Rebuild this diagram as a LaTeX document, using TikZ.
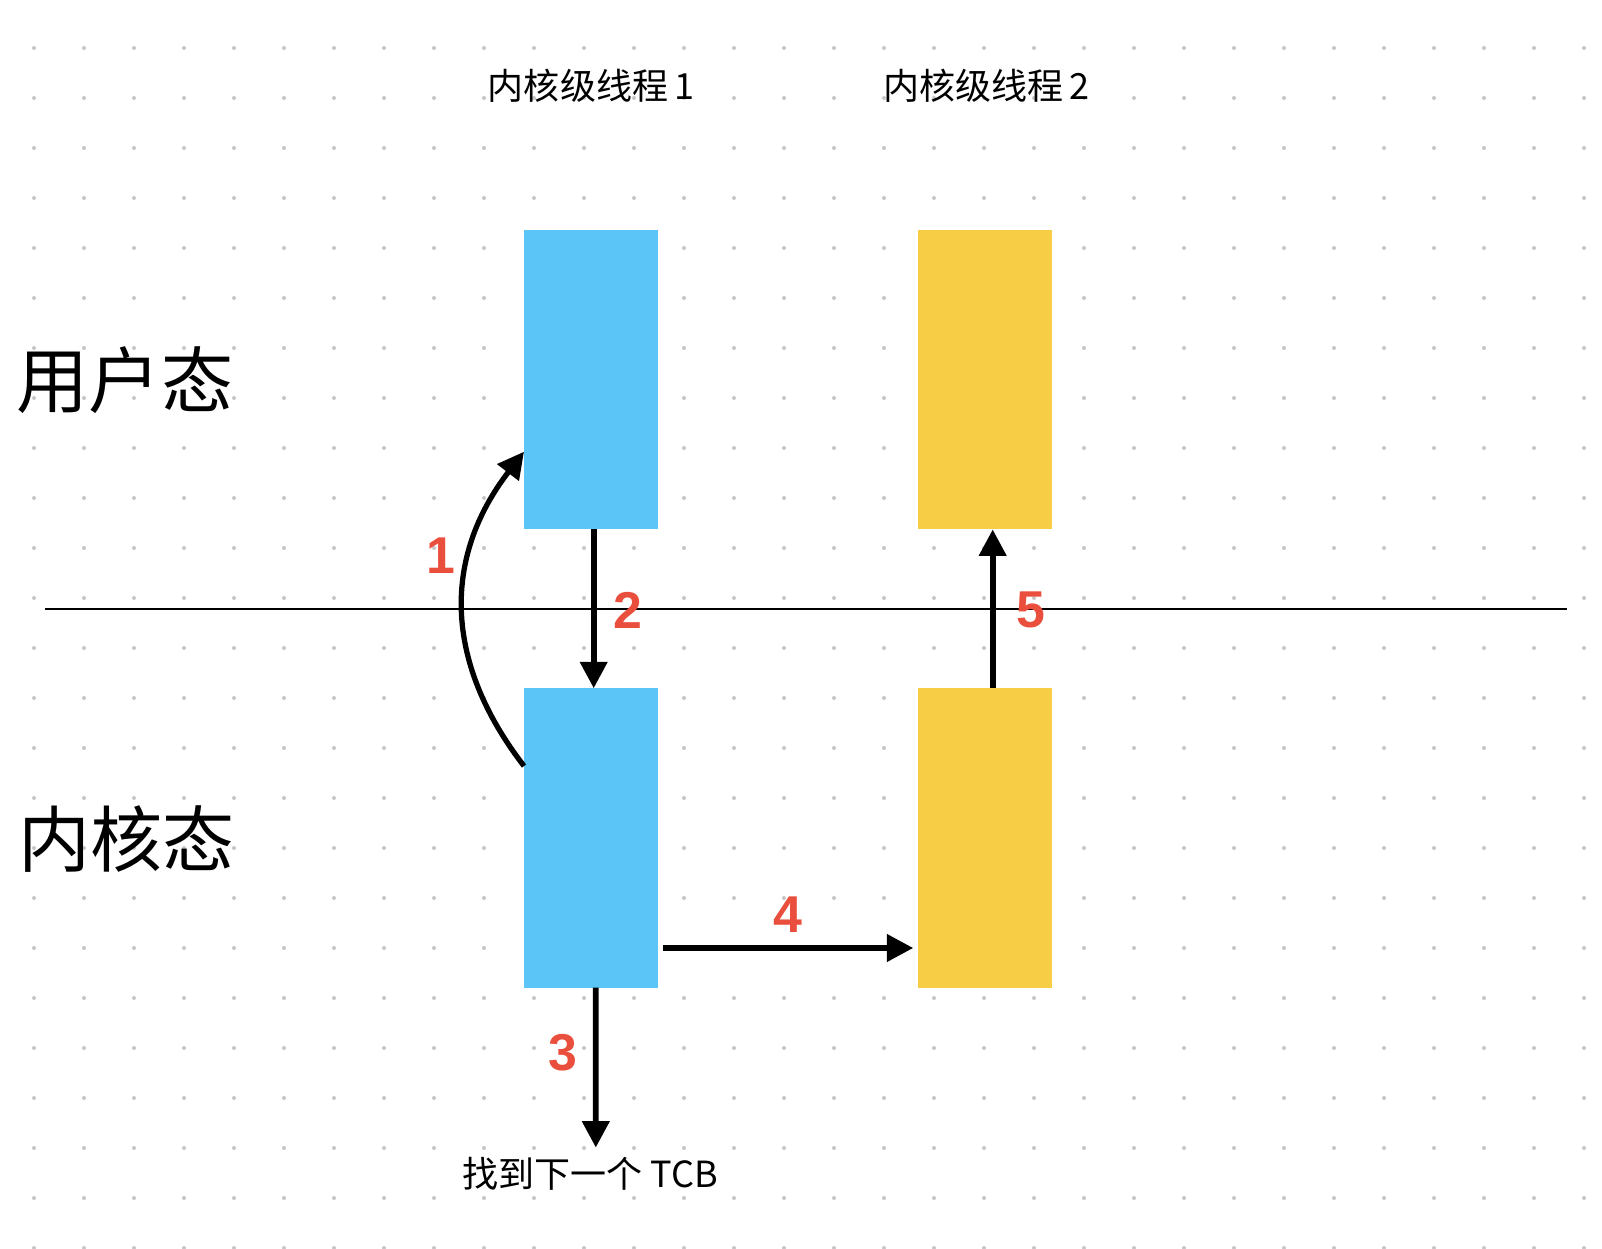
\documentclass[tikz,border=0pt]{standalone}
\usepackage{fontspec}
\setmainfont{Liberation Sans}
\newfontfamily\cjk{Noto Sans CJK SC}
\usetikzlibrary{arrows.meta}

\definecolor{kblue}{HTML}{5BC5F7}
\definecolor{kyellow}{HTML}{F6CD45}
\definecolor{kred}{HTML}{EA4F3D}
\definecolor{kdot}{HTML}{C6C6C6}

\tikzset{
  threadbox/.style={minimum width=2.68cm, minimum height=5.99cm, inner sep=0, outer sep=0},
  steparrow/.style={line width=3.3pt, -{Triangle[length=15pt,width=15pt]}},
  stepnum/.style={font=\bfseries\fontsize{29.5}{30}\selectfont, text=kred},
  title/.style={font=\cjk\fontsize{20.5}{24}\selectfont},
  modename/.style={font=\cjk\fontsize{41}{44}\selectfont},
}

\begin{document}
\begin{tikzpicture}[x=0.02cm, y=-0.02cm]
        % 背景
        \useasboundingbox (0,0) rectangle (1602,1248);
        \fill[white] (0,0) rectangle (1602,1248);
        \foreach \i in {0,...,31}
          \foreach \j in {0,...,24}
            \fill[kdot] (34+50*\i,48+50*\j) circle[radius=0.04cm];
        % 分界线
        \coordinate (L) at (45,609);
        \coordinate (R) at (1567,609);
        \draw[line width=0.75pt] (L)--(R);
        % 标题
        \node[title] (t1) at (591,86) {内核级线程\,1};
        \node[title] (t2) at (986.5,86) {内核级线程\,2};
        \node[modename] (user) at (125,380.5) {用户态};
        \node[modename] (kern) at (126.5,839) {内核态};
        % 线程
        \node[threadbox, fill=kblue] (ub1) at (591,379.7) {};
        \node[threadbox, fill=kblue] (kb1) at (591,838) {};
        \node[threadbox, fill=kyellow] (uy2) at (985,379.7) {};
        \node[threadbox, fill=kyellow] (ky2) at (985,838) {};
        \node[title, inner sep=0] (tcb) at (590.3,1174) {找到下一个 TCB};
        % 步骤
        \draw[steparrow, line width=3pt] ([yshift=1.44cm]kb1.west) .. controls (443,661) and (443,557) .. ([yshift=-1.44cm]ub1.west);
        \node[stepnum] (n1) at (440.5,555.5) {1};
        \draw[steparrow] ([xshift=0.054cm]ub1.south)--([xshift=0.054cm]kb1.north);
        \node[stepnum] (n2) at (628,610.5) {2};
        \draw[steparrow] ([xshift=0.096cm]kb1.south)--([xshift=0.11cm,yshift=0.19cm]tcb.north);
        \node[stepnum] (n3) at (563,1053) {3};
        \draw[steparrow] ([xshift=0.094cm,yshift=-2.2cm]kb1.east)--([xshift=-0.094cm,yshift=-2.2cm]ky2.west);
        \node[stepnum] (n4) at (787.5,914.5) {4};
        \draw[steparrow] ([xshift=0.154cm]ky2.north)--([xshift=0.154cm]uy2.south);
        \node[stepnum] (n5) at (1030.5,610) {5};
\end{tikzpicture}
\end{document}
